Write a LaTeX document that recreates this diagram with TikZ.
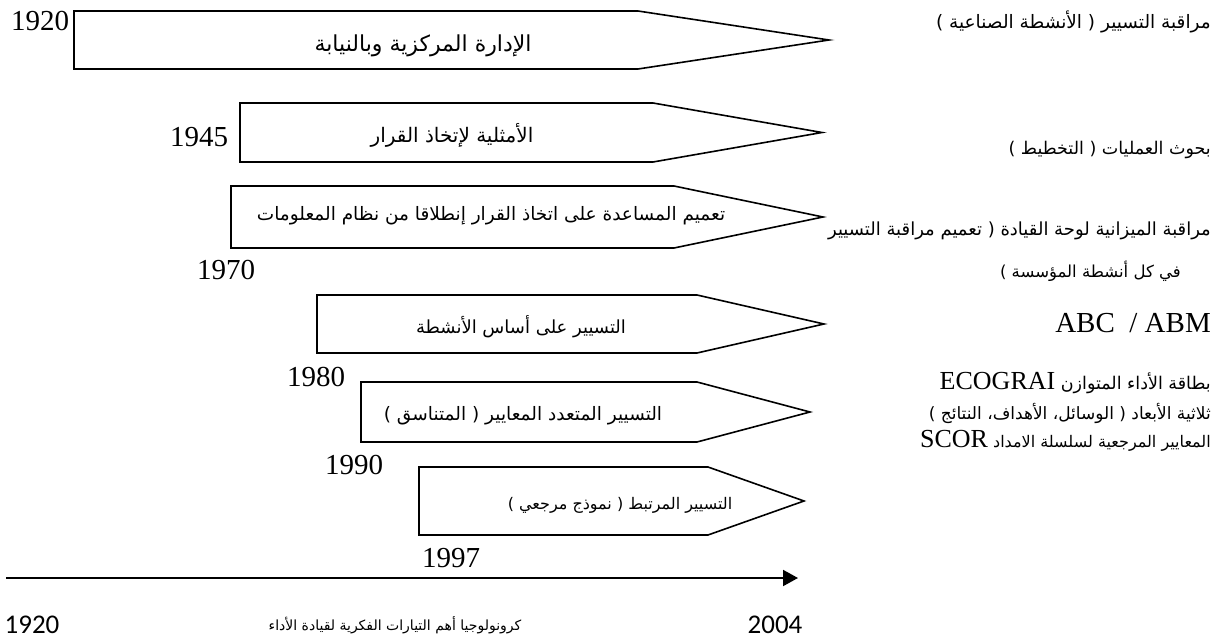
\documentclass[tikz,border=0pt]{standalone}
\usepackage{fontspec}
\setmainfont{Liberation Serif}
\newfontfamily\arfont[Script=Arabic]{DejaVu Sans}
\newfontfamily\calfont{Carlito}
\usetikzlibrary{arrows.meta}
\TeXXeTstate=1
\newcommand\artxt[1]{\beginR #1\endR}
\newcommand\lat[1]{\beginL{\rmfamily\fontsize{26}{26}\selectfont #1}\endL}

\tikzset{
  shapebox/.style={draw, line width=1.6pt, line join=miter},
  yearlbl/.style={font=\fontsize{29}{29}\selectfont, inner sep=0pt},
  boxtxt/.style={font=\arfont\fontsize{#1}{#1}\selectfont, inner sep=0pt},
  boxtxt/.default=18,
  desctxt/.style={font=\arfont\fontsize{#1}{#1}\selectfont, inner sep=0pt, anchor=east},
  desctxt/.default=17.5,
  timeline/.style={line width=2pt, -{Triangle[length=15pt,width=16pt]}},
}

\begin{document}
\begin{tikzpicture}[x=1pt, y=-1pt]
    \useasboundingbox (0,0) rectangle (1221,644);

    % Arrow boxes: left/top/bottom/end of straight part/tip
    \foreach \l/\t/\b/\s/\p in {74/11/69/638/829, 240/103/162/653/822,
        231/186/248/674/823, 317/295/353/697/824, 361/382/442/697/810,
        419/467/535/708/804}
      \draw[shapebox] (\l,\t) -- (\s,\t) -- (\p,{(\t+\b)/2}) -- (\s,\b) -- (\l,\b) -- cycle;

    % Texts in the boxes
    \node[boxtxt=22] (b1) at (423,46) {\artxt{الإدارة المركزية وبالنيابة}};
    \node[boxtxt=20] (b2) at (452,135) {\artxt{الأمثلية لإتخاذ القرار}};
    \node[boxtxt=18.5] (b3) at (491,216) {\artxt{تعميم المساعدة على اتخاذ القرار إنطلاقا من نظام المعلومات}};
    \node[boxtxt] (b4) at (521,327) {\artxt{التسيير على أساس الأنشطة}};
    \node[boxtxt=18.5] (b5) at (523,416) {\artxt{التسيير المتعدد المعايير ( المتناسق )}};
    \node[boxtxt=16] (b6) at (620,505) {\artxt{التسيير المرتبط ( نموذج مرجعي )}};

    % Years
    \node[yearlbl] (y1920) at (40,21) {1920};
    \node[yearlbl] (y1945) at (199,137) {1945};
    \node[yearlbl] (y1970) at (226,270) {1970};
    \node[yearlbl] (y1980) at (316,377) {1980};
    \node[yearlbl] (y1990) at (354,465) {1990};
    \node[yearlbl] (y1997) at (451,558) {1997};

    % Currents on the right
    \node[desctxt=18.5] (d1) at (1211,22) {\artxt{مراقبة التسيير ( الأنشطة الصناعية )}};
    \node[desctxt] (d2) at (1211,150) {\artxt{بحوث العمليات ( التخطيط )}};
    \node[desctxt=18] (d3) at (1211,231) {\artxt{مراقبة الميزانية لوحة القيادة ( تعميم مراقبة التسيير}};
    \node[desctxt=16.5] (d3b) at (1181,271) {\artxt{في كل أنشطة المؤسسة )}};
    \node[yearlbl, anchor=east] (d4) at (1211,323) {ABC\ \ / ABM};
    \node[desctxt] (d5) at (1211,383) {\artxt{بطاقة الأداء المتوازن \lat{ECOGRAI}}};
    \node[desctxt=17] (d6) at (1211,413) {\artxt{ثلاثية الأبعاد ( الوسائل، الأهداف، النتائج )}};
    \node[desctxt=16] (d7) at (1211,441) {\artxt{المعايير المرجعية لسلسلة الامداد \lat{SCOR}}};

    % Time axis
    \coordinate (t0) at (6,578);
    \coordinate (t1) at (798,578);
    \draw[timeline] (t0) -- (t1);
    \node[font=\calfont\fontsize{27}{27}\selectfont, inner sep=0pt] (c1920) at (32,625) {1920};
    \node[boxtxt=14] (cap) at (395,625) {\artxt{كرونولوجيا أهم التيارات الفكرية لقيادة الأداء}};
    \node[font=\calfont\fontsize{27}{27}\selectfont, inner sep=0pt] (c2004) at (775,625) {2004};
\end{tikzpicture}
\end{document}
